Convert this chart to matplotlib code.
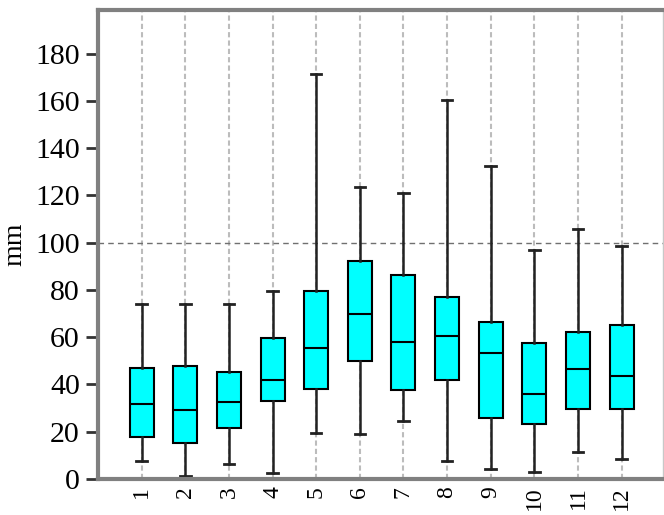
import matplotlib
matplotlib.use("Agg")
import matplotlib.pyplot as plt

# monthly box stats (mm)
months = [str(m) for m in range(1, 13)]
whislo = [7.8, 1.4, 6.3, 2.4, 19.4, 19.0, 24.4, 7.7, 4.4, 2.9, 11.5, 8.4]
q1 = [17.9, 15.2, 21.7, 33.2, 37.9, 49.8, 37.6, 42.1, 25.8, 23.4, 29.8, 29.8]
med = [31.8, 29.4, 32.5, 42.0, 55.3, 69.8, 57.9, 60.4, 53.2, 36.0, 46.4, 43.8]
q3 = [47.1, 47.8, 45.4, 59.6, 79.6, 92.2, 86.4, 77.0, 66.4, 57.4, 62.1, 65.1]
whishi = [74.0, 74.0, 74.0, 79.6, 171.6, 123.7, 121.1, 160.3, 132.3, 97.0, 106.0, 98.7]
yticks = [0, 20, 40, 60, 80, 100, 120, 140, 160, 180]

stats = []
for i, m in enumerate(months):
    stats.append(dict(label=m, whislo=whislo[i], q1=q1[i], med=med[i],
                      q3=q3[i], whishi=whishi[i], fliers=[]))

plt.rcParams['font.family'] = ['Liberation Serif', 'DejaVu Serif']

fig = plt.figure(figsize=(6.64, 5.15), dpi=100)
ax = fig.add_axes([0.1476, 0.0699, 0.851, 0.9107])

pos = list(range(1, 13))
for x in pos:
    ax.axvline(x, color='#bcbcbc', lw=1.5, ls=(0, (2.5, 1.5)), zorder=0)
ax.axhline(100, color='#707070', lw=1.0, ls=(0, (4, 3)), zorder=0)

ax.bxp(stats, positions=pos, widths=0.55, capwidths=0.24, patch_artist=True,
       showfliers=False,
       boxprops=dict(facecolor='#00ffff', edgecolor='black', linewidth=1.5),
       medianprops=dict(color='black', linewidth=1.5),
       whiskerprops=dict(color='#222222', linewidth=1.8),
       capprops=dict(color='#222222', linewidth=2))

ax.set_xlim(0, 12.95)
ax.set_ylim(0, 198.5)
ax.set_yticks(yticks)
ax.set_xticks(pos)
ax.set_xticklabels(months, rotation=90, fontsize=17)
ax.tick_params(axis='y', labelsize=21.5, length=9, width=2, color='#333333', pad=4)
ax.tick_params(axis='x', length=0, pad=5)
ax.set_ylabel('mm', fontsize=20, labelpad=6)

for s in ['left', 'top', 'bottom']:
    ax.spines[s].set_color('#808080')
    ax.spines[s].set_linewidth(3)
ax.spines['right'].set_color('#c8c8c8')
ax.spines['right'].set_linewidth(1)

fig.savefig('out.png', dpi=100)
